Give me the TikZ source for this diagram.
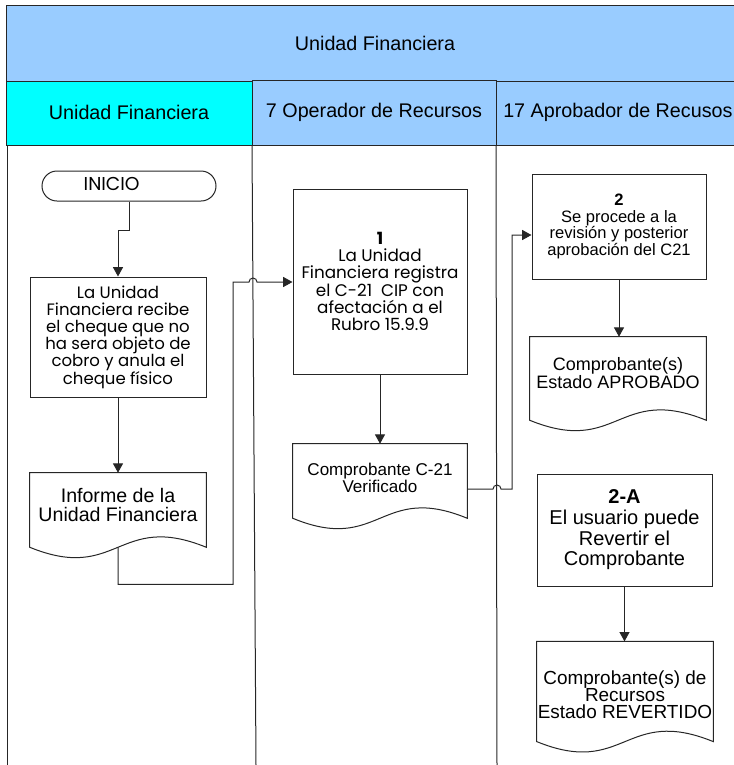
\documentclass[tikz,border=0pt]{standalone}
\usepackage{fontspec}
\setmainfont{Liberation Sans}
\newfontfamily\gothic{Poppins}
\usetikzlibrary{arrows.meta,calc}
\definecolor{lblue}{HTML}{99CCFF}
\definecolor{lcyan}{HTML}{00FFFF}
\newcommand\docshape[2]{%
  \draw[lineS] (#1.north west) -- (#1.north east) -- ($(#1.south east)+(0,#2)$)
    .. controls ($(#1.south)+(0,#2-36)$) and ($(#1.south)+(0,#2+36)$) ..
    ($(#1.south west)+(0,#2)$) -- cycle;}
\begin{document}
\begin{tikzpicture}[x=0.75pt,y=-0.75pt,
  lineS/.style={draw=black!85, line width=0.75pt},
  arr/.style={lineS, -{Triangle[width=7.5pt,length=7pt]}},
  procbox/.style={lineS, align=center, inner sep=0pt},
  docnode/.style={align=center, inner sep=0pt},
  hdrtext/.style={font=\fontsize{14.8}{17}\selectfont, inner sep=0pt}]
\useasboundingbox (0,0) rectangle (734,765);
\clip (0,0) rectangle (734,765);
% header
\draw[lineS, fill=lblue] (6,5) rectangle (745,81);
\node[hdrtext] (title) at (375,43) {Unidad Financiera};
\draw[lineS, fill=lcyan] (6,81) rectangle (252,145);
\draw[lineS, fill=lblue] (496,81) rectangle (745,145);
\draw[lineS, fill=lblue] (252,80) rectangle (496,145);
\node[hdrtext] (lane1) at (129,112) {Unidad Financiera};
\node[hdrtext] (lane2) at (374,112) {7 Operador de Recursos};
\node[hdrtext, anchor=west] (lane3) at (503,112) {17 Aprobador de Recusos};
% lane lines
\draw[lineS] (7.5,145) -- (7.5,765);
\draw[lineS] (252,145) -- (256,765);
\draw[lineS] (496,145) -- (497,765);
% nodes
\node[lineS, rounded corners=11.25pt, minimum width=130.5pt, minimum height=22.5pt, inner sep=0pt,
  font=\gothic\fontsize{14}{15}\selectfont] (inicio) at (129,186)
  {\hspace*{-26pt}\raisebox{3.5pt}{INICIO}};
\node[procbox, minimum width=132pt, minimum height=90pt,
  font=\gothic\fontsize{12.4}{12.9}\selectfont] (boxA) at (118,337)
  {La Unidad\\Financiera recibe\\el cheque que no\\ha sera objeto de\\cobro y anula el\\cheque físico};
\node[docnode, minimum width=132pt, minimum height=48pt,
  font=\fontsize{14.7}{14.6}\selectfont] (docB) at (118,505)
  {Informe de la\\Unidad Financiera};
\docshape{docB}{10}
\node[procbox, minimum width=130.5pt, minimum height=138.75pt,
  font=\gothic\fontsize{12.6}{12.9}\selectfont] (box1) at (380,281.5)
  {\textbf{1}\\La Unidad\\Financiera registra\\el C-21~ CIP con\\afectación a el\\Rubro 15.9.9};
\node[docnode, minimum width=130.5pt, minimum height=51pt,
  font=\fontsize{12.8}{13}\selectfont] (docC) at (380,478)
  {Comprobante C-21\\Verificado};
\docshape{docC}{6}
\node[procbox, minimum width=130.5pt, minimum height=78.75pt,
  font=\fontsize{12.4}{12.6}\selectfont] (box2) at (619,226.5)
  {\textbf{2}\\Se procede a la\\revisión y posterior\\aprobación del C21};
\node[docnode, minimum width=132pt, minimum height=54pt,
  font=\fontsize{13.5}{12}\selectfont] (docD) at (618,373)
  {Comprobante(s)\\Estado APROBADO};
\docshape{docD}{11}
\node[procbox, minimum width=131.25pt, minimum height=84pt,
  font=\fontsize{15}{15.5}\selectfont] (box2A) at (624.5,530)
  {\textbf{2-A}\\El usuario puede\\Revertir el\\Comprobante};
\node[docnode, minimum width=132pt, minimum height=80pt,
  font=\fontsize{14.2}{12.75}\selectfont] (docE) at (625,695)
  {Comprobante(s) de\\Recursos\\Estado REVERTIDO};
\docshape{docE}{-7}
% connectors
\draw[arr] (inicio.south) -- ++(0,29) -| (boxA.north);
\draw[arr] (boxA.south) -- (docB.north);
\draw[arr] ($(docB.south)+(0,10)$) -- ++(0,37) -| (233,282)
  -- (249,282) arc[start angle=180, end angle=360, radius=4] -- (box1.west |- 0,282);
\draw[arr] (box1.south) -- (docC.north);
\draw[arr] ($(docC.east)+(0,11)$) -- (493,489) arc[start angle=180, end angle=360, radius=4]
  -- (512,489) -- (512,235) -- (box2.west |- 0,235);
\draw[arr] (box2.south) -- (box2.south |- docD.north);
\draw[arr] (box2A.south) -- (box2A.south |- docE.north);
\end{tikzpicture}
\end{document}
